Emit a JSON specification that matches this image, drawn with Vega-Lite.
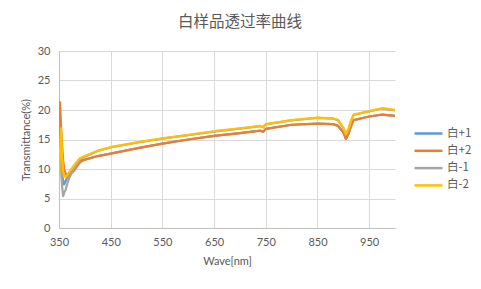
{
  "$schema": "https://vega.github.io/schema/vega-lite/v6.json",
  "width": 336,
  "height": 177,
  "autosize": {"type": "none"},
  "padding": {"left": 59, "top": 51, "right": 86, "bottom": 61},
  "background": "white",
  "title": {
    "text": "白样品透过率曲线",
    "font": "Noto Sans CJK SC",
    "fontSize": 15.5,
    "fontWeight": "normal",
    "color": "#595959",
    "anchor": "middle",
    "dx": 13,
    "offset": 15
  },
  "data": {
    "values": [
      {"s": "白+1", "w": 350, "t": 19.8}, {"s": "白+1", "w": 352, "t": 17}, {"s": "白+1", "w": 354, "t": 12}, {"s": "白+1", "w": 356, "t": 9}, {"s": "白+1", "w": 358, "t": 8}, {"s": "白+1", "w": 360, "t": 7.4}, {"s": "白+1", "w": 363, "t": 8}, {"s": "白+1", "w": 366, "t": 8.5}, {"s": "白+1", "w": 370, "t": 9.2}, {"s": "白+1", "w": 378, "t": 10}, {"s": "白+1", "w": 390, "t": 11.4}, {"s": "白+1", "w": 400, "t": 11.6}, {"s": "白+1", "w": 425, "t": 12.2}, {"s": "白+1", "w": 450, "t": 12.6}, {"s": "白+1", "w": 500, "t": 13.5}, {"s": "白+1", "w": 550, "t": 14.3}, {"s": "白+1", "w": 600, "t": 15.0}, {"s": "白+1", "w": 650, "t": 15.6}, {"s": "白+1", "w": 700, "t": 16.1}, {"s": "白+1", "w": 740, "t": 16.5}, {"s": "白+1", "w": 745, "t": 16.3}, {"s": "白+1", "w": 750, "t": 16.8}, {"s": "白+1", "w": 800, "t": 17.5}, {"s": "白+1", "w": 850, "t": 17.7}, {"s": "白+1", "w": 880, "t": 17.6}, {"s": "白+1", "w": 890, "t": 17.3}, {"s": "白+1", "w": 900, "t": 16.2}, {"s": "白+1", "w": 905, "t": 15.1}, {"s": "白+1", "w": 910, "t": 16.0}, {"s": "白+1", "w": 915, "t": 17.3}, {"s": "白+1", "w": 920, "t": 18.3}, {"s": "白+1", "w": 950, "t": 18.9}, {"s": "白+1", "w": 975, "t": 19.2}, {"s": "白+1", "w": 1000, "t": 19.0},

      {"s": "白+2", "w": 350, "t": 16.6}, {"s": "白+2", "w": 352, "t": 21.3}, {"s": "白+2", "w": 354, "t": 17}, {"s": "白+2", "w": 356, "t": 14}, {"s": "白+2", "w": 358, "t": 11.5}, {"s": "白+2", "w": 360, "t": 10}, {"s": "白+2", "w": 363, "t": 9.2}, {"s": "白+2", "w": 366, "t": 8.8}, {"s": "白+2", "w": 370, "t": 9.0}, {"s": "白+2", "w": 378, "t": 9.6}, {"s": "白+2", "w": 390, "t": 11.1}, {"s": "白+2", "w": 400, "t": 11.6}, {"s": "白+2", "w": 425, "t": 12.2}, {"s": "白+2", "w": 450, "t": 12.6}, {"s": "白+2", "w": 500, "t": 13.5}, {"s": "白+2", "w": 550, "t": 14.3}, {"s": "白+2", "w": 600, "t": 15.0}, {"s": "白+2", "w": 650, "t": 15.6}, {"s": "白+2", "w": 700, "t": 16.1}, {"s": "白+2", "w": 740, "t": 16.5}, {"s": "白+2", "w": 745, "t": 16.3}, {"s": "白+2", "w": 750, "t": 16.8}, {"s": "白+2", "w": 800, "t": 17.5}, {"s": "白+2", "w": 850, "t": 17.7}, {"s": "白+2", "w": 880, "t": 17.6}, {"s": "白+2", "w": 890, "t": 17.3}, {"s": "白+2", "w": 900, "t": 16.2}, {"s": "白+2", "w": 905, "t": 15.1}, {"s": "白+2", "w": 910, "t": 16.0}, {"s": "白+2", "w": 915, "t": 17.3}, {"s": "白+2", "w": 920, "t": 18.3}, {"s": "白+2", "w": 950, "t": 18.9}, {"s": "白+2", "w": 975, "t": 19.2}, {"s": "白+2", "w": 1000, "t": 19.0},

      {"s": "白-1", "w": 350, "t": 14}, {"s": "白-1", "w": 352, "t": 12}, {"s": "白-1", "w": 354, "t": 10}, {"s": "白-1", "w": 356, "t": 7}, {"s": "白-1", "w": 358, "t": 5.4}, {"s": "白-1", "w": 360, "t": 6}, {"s": "白-1", "w": 363, "t": 6.5}, {"s": "白-1", "w": 366, "t": 7.5}, {"s": "白-1", "w": 370, "t": 8.5}, {"s": "白-1", "w": 378, "t": 10}, {"s": "白-1", "w": 390, "t": 11.6}, {"s": "白-1", "w": 400, "t": 12.1}, {"s": "白-1", "w": 425, "t": 13.05}, {"s": "白-1", "w": 450, "t": 13.65}, {"s": "白-1", "w": 500, "t": 14.45}, {"s": "白-1", "w": 550, "t": 15.15}, {"s": "白-1", "w": 600, "t": 15.75}, {"s": "白-1", "w": 650, "t": 16.35}, {"s": "白-1", "w": 700, "t": 16.85}, {"s": "白-1", "w": 740, "t": 17.25}, {"s": "白-1", "w": 745, "t": 17.05}, {"s": "白-1", "w": 750, "t": 17.55}, {"s": "白-1", "w": 800, "t": 18.25}, {"s": "白-1", "w": 850, "t": 18.65}, {"s": "白-1", "w": 880, "t": 18.55}, {"s": "白-1", "w": 890, "t": 18.25}, {"s": "白-1", "w": 900, "t": 16.95}, {"s": "白-1", "w": 905, "t": 15.85}, {"s": "白-1", "w": 910, "t": 16.75}, {"s": "白-1", "w": 915, "t": 18.15}, {"s": "白-1", "w": 920, "t": 19.15}, {"s": "白-1", "w": 950, "t": 19.75}, {"s": "白-1", "w": 975, "t": 20.25}, {"s": "白-1", "w": 1000, "t": 19.95},

      {"s": "白-2", "w": 350, "t": 8.3}, {"s": "白-2", "w": 352, "t": 13}, {"s": "白-2", "w": 354, "t": 16.9}, {"s": "白-2", "w": 356, "t": 12}, {"s": "白-2", "w": 358, "t": 9.5}, {"s": "白-2", "w": 360, "t": 8.8}, {"s": "白-2", "w": 363, "t": 8.6}, {"s": "白-2", "w": 366, "t": 9.0}, {"s": "白-2", "w": 370, "t": 9.5}, {"s": "白-2", "w": 378, "t": 10.5}, {"s": "白-2", "w": 390, "t": 11.8}, {"s": "白-2", "w": 400, "t": 12.2}, {"s": "白-2", "w": 425, "t": 13.1}, {"s": "白-2", "w": 450, "t": 13.7}, {"s": "白-2", "w": 500, "t": 14.5}, {"s": "白-2", "w": 550, "t": 15.2}, {"s": "白-2", "w": 600, "t": 15.8}, {"s": "白-2", "w": 650, "t": 16.4}, {"s": "白-2", "w": 700, "t": 16.9}, {"s": "白-2", "w": 740, "t": 17.3}, {"s": "白-2", "w": 745, "t": 17.1}, {"s": "白-2", "w": 750, "t": 17.6}, {"s": "白-2", "w": 800, "t": 18.3}, {"s": "白-2", "w": 850, "t": 18.7}, {"s": "白-2", "w": 880, "t": 18.6}, {"s": "白-2", "w": 890, "t": 18.3}, {"s": "白-2", "w": 900, "t": 17.0}, {"s": "白-2", "w": 905, "t": 15.9}, {"s": "白-2", "w": 910, "t": 16.8}, {"s": "白-2", "w": 915, "t": 18.2}, {"s": "白-2", "w": 920, "t": 19.2}, {"s": "白-2", "w": 950, "t": 19.8}, {"s": "白-2", "w": 975, "t": 20.3}, {"s": "白-2", "w": 1000, "t": 20.0}
    ]
  },
  "mark": {"type": "line", "strokeWidth": 2.25, "strokeJoin": "round", "clip": true},
  "encoding": {
    "x": {
      "field": "w", "type": "quantitative",
      "scale": {"domain": [350, 1000], "nice": false, "zero": false},
      "axis": {
        "title": "Wave[nm]",
        "values": [350, 450, 550, 650, 750, 850, 950],
        "labelFlush": false,
        "labelPadding": 8,
        "titlePadding": 8
      }
    },
    "y": {
      "field": "t", "type": "quantitative",
      "scale": {"domain": [0, 30], "nice": false},
      "axis": {
        "title": "Transmittance(%)",
        "values": [0, 5, 10, 15, 20, 25, 30],
        "labelFlush": false,
        "labelPadding": 9,
        "titlePadding": 6
      }
    },
    "color": {
      "field": "s", "type": "nominal",
      "scale": {"domain": ["白+1", "白+2", "白-1", "白-2"], "range": ["#5B9BD5", "#ED7D31", "#A5A5A5", "#FFC000"]},
      "legend": {
        "title": null,
        "orient": "none",
        "legendX": 361,
        "legendY": 74,
        "symbolType": "M-2,0H2",
        "symbolSize": 196,
        "symbolStrokeWidth": 2.5,
        "rowPadding": 3.3,
        "labelOffset": 10
      }
    }
  },
  "config": {
    "font": "Lato",
    "view": {"stroke": null},
    "axis": {
      "labelFont": "Lato",
      "labelFontSize": 11,
      "labelColor": "#595959",
      "titleFont": "Lato",
      "titleFontSize": 11,
      "titleFontWeight": "normal",
      "titleColor": "#595959",
      "gridColor": "#D9D9D9",
      "gridWidth": 1,
      "domainColor": "#BFBFBF",
      "ticks": false
    },
    "legend": {
      "labelFont": "Noto Sans CJK SC",
      "labelFontSize": 11.5,
      "labelColor": "#595959"
    }
  }
}
